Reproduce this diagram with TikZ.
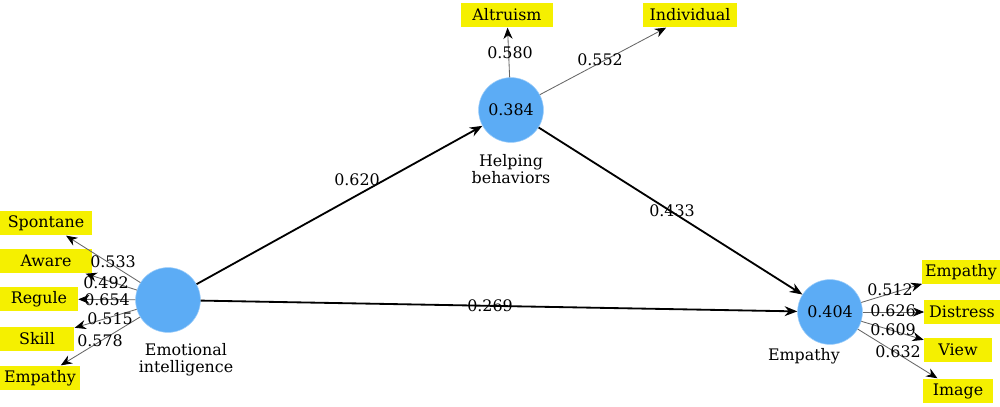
\documentclass[tikz,border=0pt]{standalone}
\usepackage{fontspec}
\setmainfont{DejaVu Serif}
\usetikzlibrary{arrows.meta}
\definecolor{lvblue}{RGB}{92,172,245}
\definecolor{lvyellow}{RGB}{245,240,0}

\begin{document}
\begin{tikzpicture}[x=0.025cm,y=-0.025cm,
  font=\fontsize{11.3}{13}\selectfont,
  latent/.style={circle,fill=lvblue,draw=lvblue!60,minimum size=1.62cm,inner sep=0pt},
  ind/.style={fill=lvyellow,minimum height=0.62cm,inner sep=1pt},
  path/.style={black,line width=1.3pt,-{Stealth[length=9pt,width=7pt]}},
  load/.style={gray!80!black,line width=0.6pt,-{Stealth[length=8pt,width=6.5pt,black]}}]
\useasboundingbox (0,0) rectangle (1000,407);
% latent variables
\node[latent] (ei) at (168,300) {};
\node[latent] (hb) at (511,110) {0.384};
\node[latent] (em) at (830,312) {0.404};
\node[align=center] (eitxt) at (186,360) {Emotional\\[-1pt]intelligence};
\node[align=center] (hbtxt) at (511,169) {Helping\\[-1pt]behaviors};
\node (emtxt) at (804,356) {Empathy};
% indicators
\node[ind,minimum width=2.3cm] (spont) at (46,223) {Spontane};
\node[ind,minimum width=2.3cm] (aware) at (46,261) {Aware};
\node[ind,minimum width=1.95cm] (regul) at (39,299) {Regule};
\node[ind,minimum width=1.87cm] (skill) at (37,339) {Skill};
\node[ind,minimum width=2cm] (empl) at (40,378) {Empathy};
\node[ind,minimum width=2.3cm] (altru) at (507,15) {Altruism};
\node[ind,minimum width=2.35cm] (indiv) at (690,15) {Individual};
\node[ind,minimum width=1.93cm] (empr) at (961,272) {Empathy};
\node[ind,minimum width=1.88cm] (distr) at (962,312) {Distress};
\node[ind,minimum width=1.7cm] (view) at (958,350) {View};
\node[ind,minimum width=1.75cm] (image) at (958,391) {Image};
% structural paths
\draw[path] (ei) -- (hb);
\draw[path] (hb) -- (em);
\draw[path] (ei) -- (em);
% loadings
\draw[load] (ei) -- (spont);
\draw[load] (ei) -- (aware);
\draw[load] (ei) -- (regul);
\draw[load] (ei) -- (skill);
\draw[load] (ei) -- (empl);
\draw[load] (hb) -- (altru);
\draw[load] (hb) -- (indiv);
\draw[load] (em) -- (empr);
\draw[load] (em) -- (distr);
\draw[load] (em) -- (view);
\draw[load] (em) -- (image);
% coefficients
\node (c620) at (357,180) {0.620};
\node (c433) at (672,211) {0.433};
\node (c269) at (490,306) {0.269};
\node (c533) at (113,262) {0.533};
\node (c492) at (106,283) {0.492};
\node (c654) at (107,300) {0.654};
\node (c515) at (110,319) {0.515};
\node (c578) at (100,341) {0.578};
\node (c580) at (510,53) {0.580};
\node (c552) at (600,60) {0.552};
\node (c512) at (890,290) {0.512};
\node (c626) at (893,311) {0.626};
\node (c609) at (893,330) {0.609};
\node (c632) at (898,352) {0.632};
\end{tikzpicture}
\end{document}
